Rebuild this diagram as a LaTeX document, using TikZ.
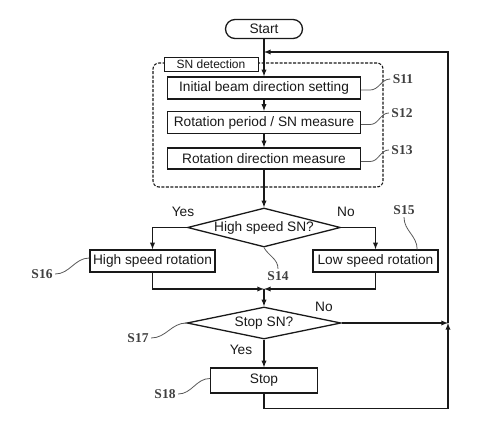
\documentclass[tikz,border=0pt]{standalone}
\usepackage{fontspec}
\setmainfont{Liberation Sans}
\newfontfamily\stepfont{Liberation Serif}
\usetikzlibrary{shapes.geometric}
\usetikzlibrary{arrows}
\usetikzlibrary{calc}

\begin{document}
\begin{tikzpicture}[x=1pt,y=-1pt,line width=1.3pt,color=black!90,>=latex,
    every node/.append style={font=\fontsize{13.7}{16}\selectfont},
    term/.style={draw,rounded corners=9.5pt,minimum width=77pt,minimum height=19pt,inner sep=0pt},
    box/.style={draw,rectangle,inner sep=1pt,minimum height=22pt},
    dec/.style={draw,diamond,aspect=4,inner sep=0pt},
    grp/.style={draw,dash pattern=on 3pt off 1.5pt,rounded corners=6pt,line width=1.1pt},
    tag/.style={font=\stepfont\bfseries\fontsize{13.5}{15}\selectfont,text=black!75,inner sep=2pt},
    lead/.style={draw=black!65,line width=0.8pt}]
  \useasboundingbox (0,0) rectangle (483,437);
  % SN detection block
  \node[term] (start) at (264,29) {Start};
  \node[grp,minimum width=230pt,minimum height=124pt] (grp) at (268,125) {};
  \node[box,fill=white,line width=1pt,minimum width=94pt,minimum height=14pt,
        font=\fontsize{12}{14}\selectfont] (sn) at (211,64) {SN detection};
  \node[box,minimum width=193pt] (s11) at (264,88) {Initial beam direction setting};
  \node[box,minimum width=193pt] (s12) at (264,122.5) {Rotation period / SN measure};
  \node[box,minimum width=193pt,minimum height=21pt] (s13) at (264,158.5) {Rotation direction measure};
  % branches
  \node[dec,minimum width=153pt,minimum height=39pt] (s14) at (264,227.5) {High speed SN?};
  \node[box,minimum width=125pt] (s16) at (152.5,261) {High speed rotation};
  \node[box,minimum width=125pt] (s15) at (375.5,261) {Low speed rotation};
  \node[dec,minimum width=154pt,minimum height=32pt] (s17) at (264,323) {Stop SN?};
  \node[box,minimum width=107pt,minimum height=25pt] (s18) at (264,380.5) {Stop};
  \coordinate (mrg) at (264,289);
  \coordinate (jn) at (448,323);
  \coordinate (back) at (264,52);
  % yes / no
  \node (yes1) at (183,212) {Yes};
  \node (no1) at (346,212) {No};
  \node (no2) at (324,307) {No};
  \node (yes2) at (241,350) {Yes};
  % step numbers
  \node[tag] (t11) at (403,79) {S11};
  \node[tag] (t12) at (402,113) {S12};
  \node[tag] (t13) at (402,150) {S13};
  \node[tag] (t14) at (278,276) {S14};
  \node[tag] (t15) at (404,210) {S15};
  \node[tag] (t16) at (42,274) {S16};
  \node[tag] (t17) at (138,338) {S17};
  \node[tag] (t18) at (165,394) {S18};
  % flow
  \draw[->] (start) -- (s11);
  \draw[->] (s11) -- (s12);
  \draw[->] (s12) -- (s13);
  \draw[->] (s13) -- (s14);
  \draw[->] (s14.west) -| (s16.north);
  \draw[->] (s14.east) -| (s15.north);
  \draw[->] (s16.south) |- (mrg);
  \draw[->] (s15.south) |- (mrg);
  \draw[->] (mrg) -- (s17.north);
  \draw[->] (s17.east) -- (jn);
  \draw[->] (s17.south) -- (s18.north);
  \draw[->] (s18.south) -- ++(0,15) -| (jn);
  \draw[->] (jn) |- (back);
  % leaders
  \draw[lead] ([yshift=-2pt]s11.east) -- ++(9,0) to[out=0,in=180] (t11.west);
  \draw[lead] ([yshift=-2pt]s12.east) -- ++(9,0) to[out=0,in=180] (t12.west);
  \draw[lead] ([yshift=-3pt]s13.east) -- ++(9,0) to[out=0,in=180] (t13.west);
  \draw[lead] (s14.south) to[out=-60,in=90] (t14.north);
  \draw[lead] (t15.south) to[out=-90,in=90] (t15.east |- s15.north);
  \draw[lead] (t16.east) to[out=0,in=180] ([yshift=3pt]s16.west);
  \draw[lead] (t17.east) to[out=0,in=180] (s17.west);
  \draw[lead] (t18.east) to[out=0,in=180] ([yshift=2pt]s18.west);
\end{tikzpicture}
\end{document}
